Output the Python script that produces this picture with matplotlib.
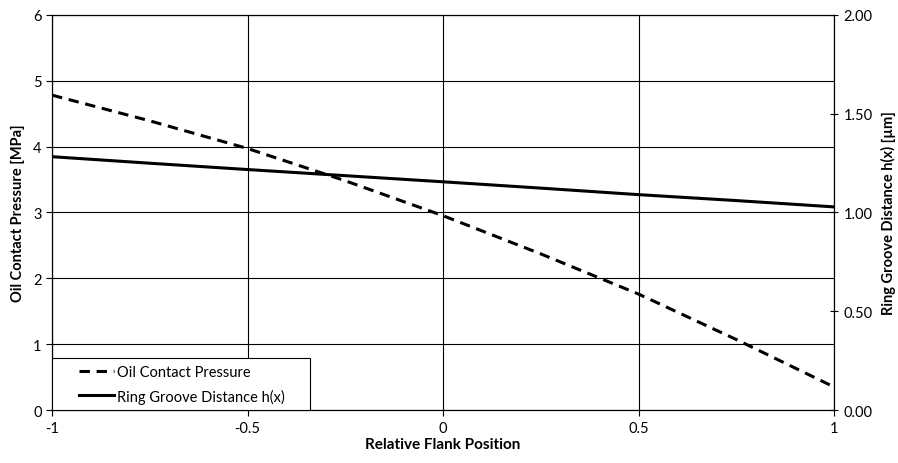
import matplotlib
matplotlib.use("Agg")
import matplotlib.pyplot as plt
from matplotlib.ticker import FormatStrFormatter
from matplotlib.legend_handler import HandlerLine2D

plt.rcParams['font.family'] = ['Lato', 'DejaVu Sans']

# relative flank position
pos = [-1.0, -0.75, -0.5, -0.25, 0.0, 0.25, 0.5, 0.75, 1.0]
# oil contact pressure [MPa]
pressure = [4.78, 4.39, 3.97, 3.48, 2.95, 2.37, 1.76, 1.07, 0.35]
# ring groove distance h(x) [um]
distance = [1.282, 1.249, 1.217, 1.186, 1.155, 1.123, 1.090, 1.060, 1.028]


class IndentHandler(HandlerLine2D):
    # draw the legend line only in the right part of the handle box
    def get_xdata(self, legend, xdescent, ydescent, width, height, fontsize):
        x0 = -xdescent + 0.36 * width
        x1 = -xdescent + width
        return [x0, x1], [x0, x1]


fig = plt.figure(figsize=(8.98, 4.64), dpi=100)
ax = fig.add_axes([0.058, 0.114, 0.871, 0.852])
ax2 = ax.twinx()

l1, = ax.plot(pos, pressure, color='black', lw=2.2, ls=(0, (3.4, 2.2)),
              label='Oil Contact Pressure     ')
l2, = ax2.plot(pos, distance, color='black', lw=2.2,
               label='Ring Groove Distance h(x)     ')

ax.set_xlim(-1, 1)
ax.set_ylim(0, 6)
ax2.set_ylim(0, 2)
ax.set_xticks([-1, -0.5, 0, 0.5, 1])
ax.set_xticklabels(['-1', '-0.5', '0', '0.5', '1'])
ax.set_yticks(range(7))
ax2.set_yticks([0, 0.5, 1.0, 1.5, 2.0])
ax2.yaxis.set_major_formatter(FormatStrFormatter('%.2f'))

ax.grid(True, color='black', lw=0.8)
for a in (ax, ax2):
    for s in a.spines.values():
        s.set_linewidth(0.8)
ax.tick_params(labelsize=10.5, length=4, width=0.8, direction='out')
ax2.tick_params(labelsize=10.5, length=6, width=0.8, direction='inout')

ax.set_xlabel('Relative Flank Position', fontsize=11, fontweight='bold', labelpad=2)
ax.set_ylabel('Oil Contact Pressure [MPa]', fontsize=10.5, fontweight='bold', labelpad=6)
ax2.set_ylabel('Ring Groove Distance h(x) [µm]', fontsize=10.5, fontweight='bold', labelpad=6)

leg = ax2.legend(handles=[l1, l2], loc='lower left', borderaxespad=0,
                 fancybox=False, edgecolor='black', framealpha=1,
                 fontsize=10.5, handlelength=3.8, handletextpad=0.2,
                 borderpad=0.45, labelspacing=0.65,
                 handler_map={l1: IndentHandler(), l2: IndentHandler()})
leg.get_frame().set_linewidth(0.8)
leg.set_zorder(10)

fig.savefig('out.png', dpi=100)
